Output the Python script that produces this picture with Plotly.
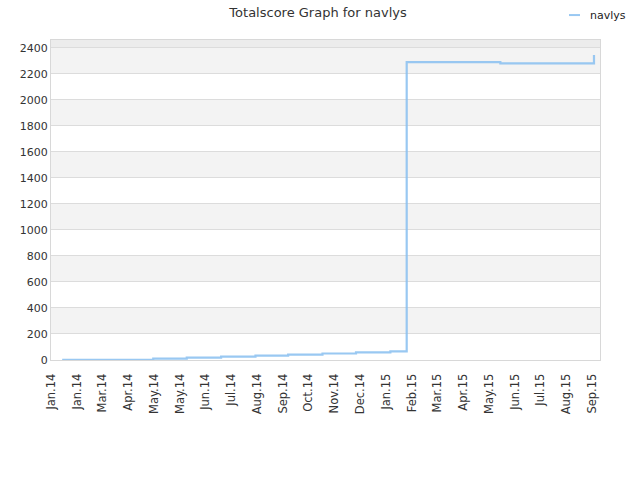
import plotly.graph_objects as go

# Data
dates = ["2014-01-14", "2014-04-30", "2014-06-08", "2014-07-18", "2014-08-27",
         "2014-10-04", "2014-11-13", "2014-12-22", "2015-01-31", "2015-02-19",
         "2015-06-08", "2015-09-25"]
scores = [2, 10, 18, 26, 34, 42, 50, 58, 66, 2290, 2280, 2345]

tick_dates = ["2014-01-01", "2014-01-31", "2014-03-02", "2014-04-01", "2014-05-01",
              "2014-05-31", "2014-06-30", "2014-07-30", "2014-08-29", "2014-09-28",
              "2014-10-28", "2014-11-27", "2014-12-27", "2015-01-26", "2015-02-25",
              "2015-03-27", "2015-04-26", "2015-05-26", "2015-06-25", "2015-07-25",
              "2015-08-24", "2015-09-23"]
tick_labels = ["Jan.14", "Jan.14", "Mar.14", "Apr.14", "May.14", "May.14", "Jun.14",
               "Jul.14", "Aug.14", "Sep.14", "Oct.14", "Nov.14", "Dec.14", "Jan.15",
               "Feb.15", "Mar.15", "Apr.15", "May.15", "Jun.15", "Jul.15", "Aug.15",
               "Sep.15"]
y_ticks = list(range(0, 2401, 200))

line_color = "rgba(135,190,240,0.85)"

fig = go.Figure()
fig.add_trace(go.Scatter(x=dates, y=scores, mode="lines", line_shape="hv",
                         line=dict(color=line_color, width=2.2), name="navlys",
                         showlegend=False))

shapes = []
for lo in range(200, 2400, 400):
    shapes.append(dict(type="rect", xref="paper", yref="y", x0=0, x1=1, y0=lo, y1=lo + 200,
                       fillcolor="#f3f3f3", line=dict(width=0), layer="below"))
shapes.append(dict(type="rect", xref="paper", yref="y", x0=0, x1=1, y0=2400, y1=2460,
                   fillcolor="#ececec", line=dict(width=0), layer="below"))
# legend sample
shapes.append(dict(type="line", xref="paper", yref="paper", x0=0.9435, x1=0.9636,
                   y0=1.078, y1=1.078, line=dict(color=line_color, width=2)))

fig.update_layout(
    width=640, height=480,
    margin=dict(l=51, r=40, t=40, b=120),
    paper_bgcolor="white", plot_bgcolor="white",
    font=dict(family="DejaVu Sans", size=11, color="#333333"),
    title=dict(text="Totalscore Graph for navlys", x=0.497, xref="container",
               y=0.975, yref="container", xanchor="center", yanchor="middle",
               font=dict(size=13, color="#333333")),
    shapes=shapes,
    annotations=[dict(text="navlys", xref="paper", yref="paper", x=0.978, y=1.078,
                      xanchor="left", yanchor="middle", showarrow=False,
                      font=dict(size=11, color="#222222"))],
    xaxis=dict(type="date", range=["2014-01-01", "2015-10-02"], tickvals=tick_dates,
               ticktext=tick_labels, tickangle=-90, showgrid=False, showline=True,
               linecolor="#d8d8d8", linewidth=1, mirror=True, ticks="", zeroline=False,
               ticklabelstandoff=8, tickfont=dict(size=11.5)),
    yaxis=dict(range=[0, 2460], tickvals=y_ticks, showgrid=True, gridcolor="#dcdcdc",
               gridwidth=1, showline=True, linecolor="#d8d8d8", linewidth=1, mirror=True,
               ticks="", zeroline=False, tickfont=dict(size=11)),
)

fig.write_html("out.html")
